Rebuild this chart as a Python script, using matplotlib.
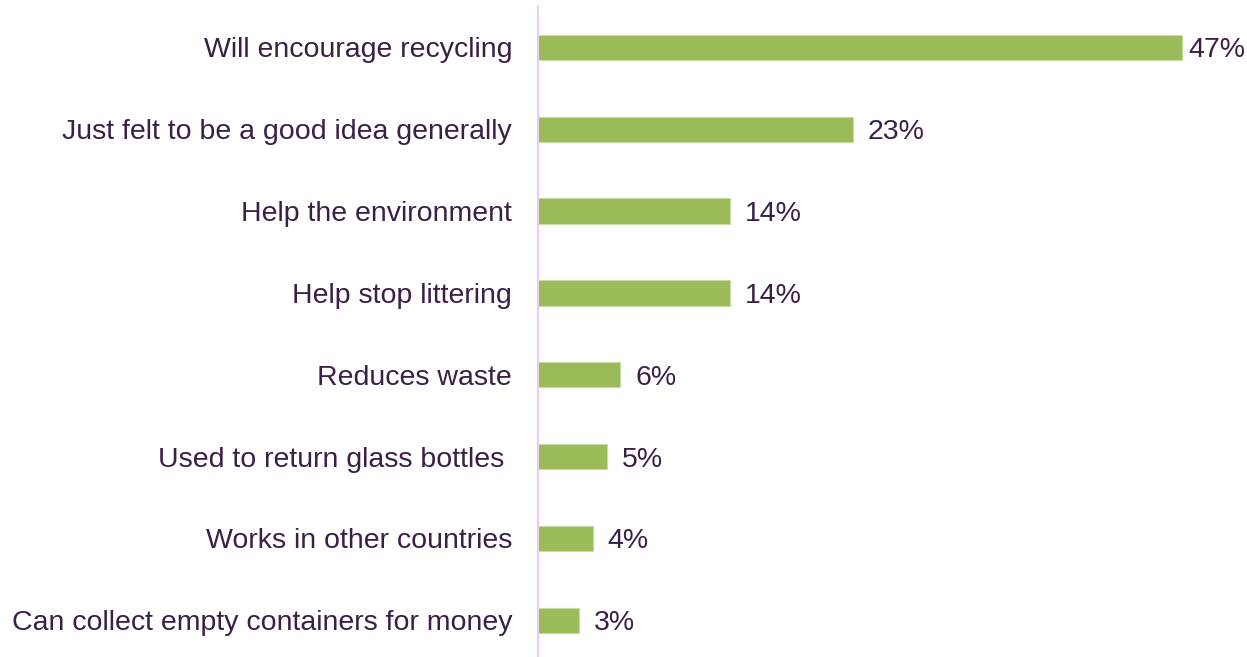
import matplotlib.pyplot as plt

plt.rcParams['font.family'] = ['Liberation Sans', 'DejaVu Sans']

reasons = ['Will encourage recycling', 'Just felt to be a good idea generally',
           'Help the environment', 'Help stop littering', 'Reduces waste',
           'Used to return glass bottles ', 'Works in other countries',
           'Can collect empty containers for money']
shares = [47, 23, 14, 14, 6, 5, 4, 3]

bar_color = '#9BBB59'
text_color = '#3A1F47'

fig = plt.figure(figsize=(12.47, 6.57), dpi=100)
ax = fig.add_axes([538 / 1247, 0, 709 / 1247, 651 / 657])

pos = range(len(reasons))
ax.barh(pos, shares, height=0.31, color=bar_color, edgecolor='#C5DBA0', linewidth=0.8)
ax.set_xlim(0, 51.75)
ax.set_ylim(7.45, -0.507)

ax.set_yticks(list(pos))
ax.set_yticklabels(reasons, fontsize=20.5, color=text_color)
ax.tick_params(axis='y', length=0, pad=18.7)
ax.set_xticks([])

for sp in ['top', 'right', 'bottom']:
    ax.spines[sp].set_visible(False)
ax.spines['left'].set_color('#E8CFF2')
ax.spines['left'].set_linewidth(1.5)

for i, v in enumerate(shares):
    off = 6 if v == max(shares) else 15
    ax.annotate(f'{v}%', (v, i), xytext=(off * 0.72, 0), textcoords='offset points',
                va='center_baseline', ha='left', fontsize=20.5, color=text_color)

fig.savefig('out.png', dpi=100)
